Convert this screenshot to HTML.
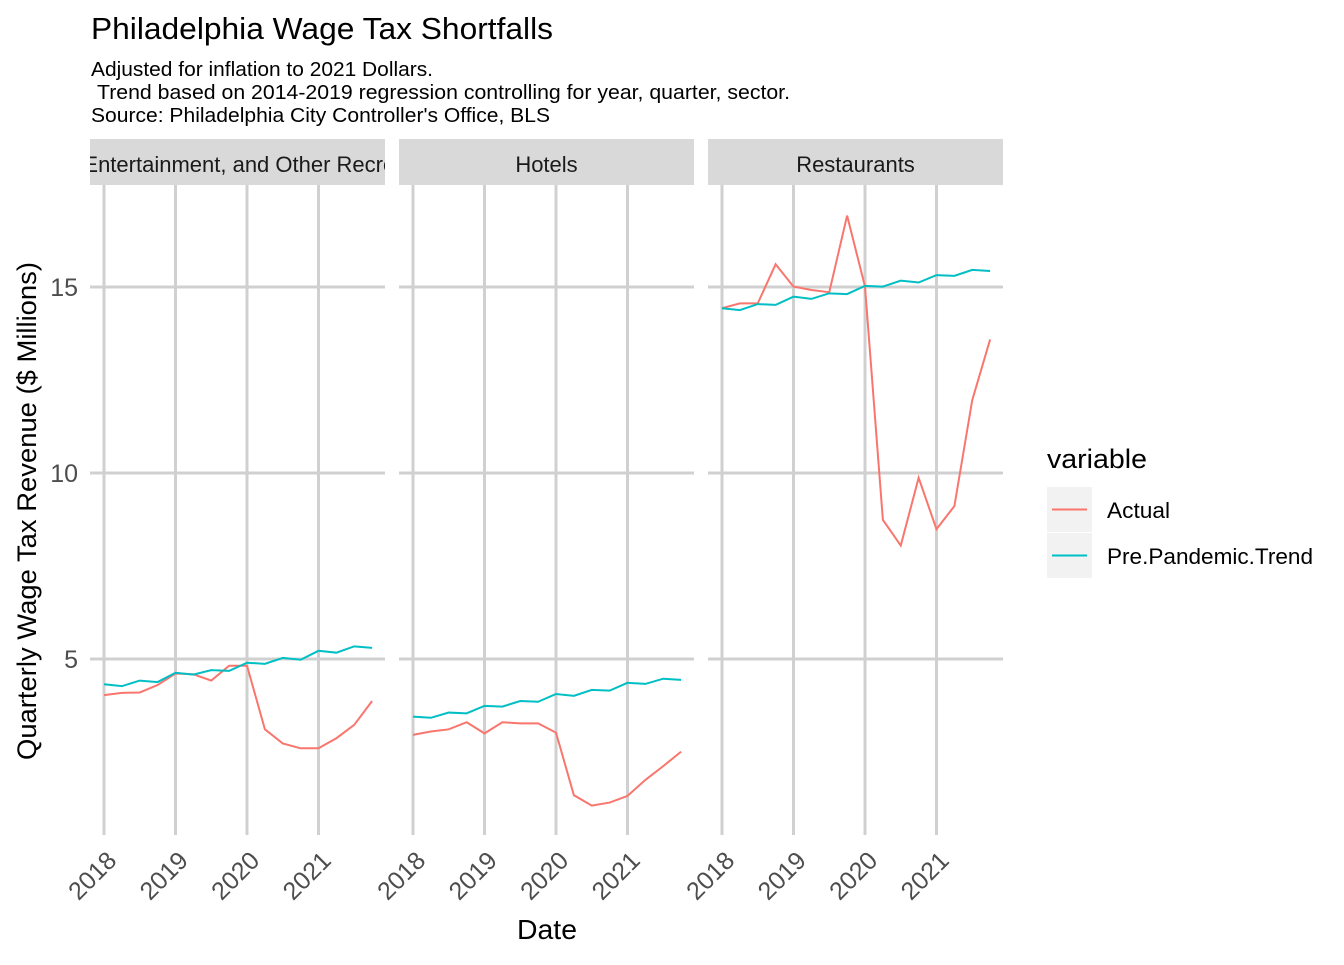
<!DOCTYPE html>
<html><head><meta charset="utf-8"><style>
body{margin:0;background:#fff;}
svg text{font-family:"Liberation Sans",Arial,sans-serif;}
</style></head><body>
<svg id="chart" width="1344" height="960" xmlns="http://www.w3.org/2000/svg">
<text x="91" y="39" font-size="31" textLength="462" lengthAdjust="spacingAndGlyphs" fill="#000">Philadelphia Wage Tax Shortfalls</text>
<text x="91" y="76" font-size="20.5" textLength="342" lengthAdjust="spacingAndGlyphs" fill="#000">Adjusted for inflation to 2021 Dollars.</text>
<text x="97" y="99" font-size="20.5" textLength="693" lengthAdjust="spacingAndGlyphs" fill="#000">Trend based on 2014-2019 regression controlling for year, quarter, sector.</text>
<text x="91" y="122" font-size="20.5" textLength="459" lengthAdjust="spacingAndGlyphs" fill="#000">Source: Philadelphia City Controller's Office, BLS</text>
<text transform="translate(36,511) rotate(-90)" text-anchor="middle" font-size="27" textLength="498" lengthAdjust="spacingAndGlyphs" fill="#000">Quarterly Wage Tax Revenue ($ Millions)</text>
<text x="547" y="939" text-anchor="middle" font-size="28" textLength="60" lengthAdjust="spacingAndGlyphs" fill="#000">Date</text>
<g id="panels"></g>
<text x="1047" y="468" font-size="27" textLength="100" lengthAdjust="spacingAndGlyphs" fill="#000">variable</text>
<rect x="1047" y="487" width="45" height="45" fill="#f2f2f2"/>
<line x1="1052" x2="1087" y1="509.5" y2="509.5" stroke="#F8766D" stroke-width="2"/>
<text x="1107" y="518" font-size="22.5" textLength="63" lengthAdjust="spacingAndGlyphs" fill="#000">Actual</text>
<rect x="1047" y="533" width="45" height="45" fill="#f2f2f2"/>
<line x1="1052" x2="1087" y1="555.5" y2="555.5" stroke="#00BFC4" stroke-width="2"/>
<text x="1107" y="564" font-size="22.5" textLength="206" lengthAdjust="spacingAndGlyphs" fill="#000">Pre.Pandemic.Trend</text>
</svg>
<script>
const panelNames = ["Arts, Entertainment, and Other Recreation", "Hotels", "Restaurants"];
const dates = [2018,2018.25,2018.5,2018.75,2019,2019.25,2019.5,2019.75,2020,2020.25,2020.5,2020.75,2021,2021.25,2021.5,2021.75];
const xTicks = [2018,2019,2020,2021];
const yTicks = [5,10,15];
const actualArts = [4.03,4.09,4.10,4.30,4.61,4.59,4.42,4.82,4.82,3.11,2.73,2.60,2.60,2.87,3.23,3.87];
const trendArts = [4.32,4.27,4.42,4.38,4.63,4.58,4.70,4.68,4.90,4.87,5.03,4.98,5.22,5.17,5.34,5.30];
const actualHotels = [2.96,3.05,3.11,3.30,3.00,3.30,3.27,3.27,3.02,1.34,1.06,1.14,1.32,1.75,2.12,2.51];
const trendHotels = [3.45,3.42,3.56,3.54,3.74,3.72,3.87,3.85,4.06,4.01,4.17,4.15,4.36,4.33,4.47,4.44];
const actualRest = [14.43,14.56,14.56,15.61,15.01,14.92,14.86,16.92,15.01,8.74,8.05,9.87,8.49,9.11,11.96,13.59];
const trendRest = [14.43,14.38,14.54,14.52,14.74,14.68,14.83,14.81,15.03,15.01,15.17,15.12,15.32,15.30,15.46,15.43];

(function(){
const NS="http://www.w3.org/2000/svg";
const g=document.getElementById('panels');
const panelX=[90,399,708], panelW=295, plotTop=185, plotBottom=835;
const y=v=>845-37.2*v;
function mk(tag,attrs,parent){const e=document.createElementNS(NS,tag);for(const k in attrs)e.setAttribute(k,attrs[k]);(parent||g).appendChild(e);return e;}
const actuals=[actualArts,actualHotels,actualRest], trends=[trendArts,trendHotels,trendRest];
panelNames.forEach((name,p)=>{
  const x0=panelX[p];
  const x=d=>x0+14+71.5*(d-2018);
  const pg=mk('g',{});
  
  
  const cid='clip'+p;
  const cp=mk('clipPath',{id:cid},pg);mk('rect',{x:x0,y:139,width:panelW,height:47},cp);
  const strip=mk('rect',{x:x0,y:139,width:panelW,height:46,fill:'#d9d9d9'},pg);
  
  
  const st=mk('text',{x:x0+panelW/2,y:172,'text-anchor':'middle','font-size':22,fill:'#1a1a1a','clip-path':'url(#'+cid+')'},pg);
  st.textContent=name;
  
  
  yTicks.forEach(v=>{const l=mk('line',{x1:x0,x2:x0+panelW,y1:y(v),y2:y(v),stroke:'#d0d0d0','stroke-width':3},pg);
    
    });
  xTicks.forEach(d=>{const l=mk('line',{x1:x(d),x2:x(d),y1:plotTop,y2:plotBottom,stroke:'#d0d0d0','stroke-width':3},pg);
    
    
    const t=mk('text',{transform:`translate(${x(d)+14},${862}) rotate(-45)`,'text-anchor':'end','font-size':25,fill:'#4d4d4d'},pg);
    t.textContent=d;
    
    });
  if(p===0) yTicks.forEach(v=>{const t=mk('text',{x:78,y:y(v)+9,'text-anchor':'end','font-size':25,fill:'#4d4d4d'},pg);
    t.textContent=v;
    
    });
  [[actuals[p],'#F8766D','actual'],[trends[p],'#00BFC4','trend']].forEach(([vals,c,n])=>{
    const pl=mk('polyline',{points:vals.map((v,i)=>x(dates[i])+','+y(v)).join(' '),fill:'none',stroke:c,'stroke-width':2},pg);
    
    
  });
});
})();
</script>
</body></html>
